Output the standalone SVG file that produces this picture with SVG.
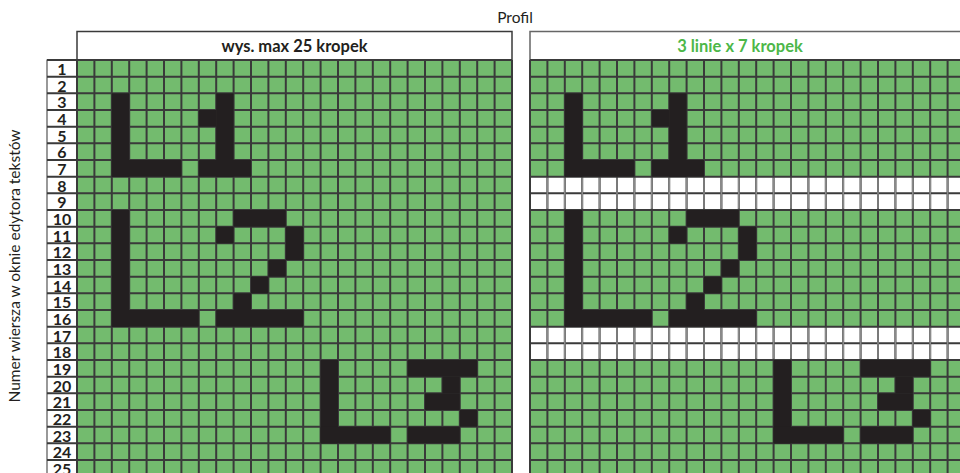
<svg xmlns="http://www.w3.org/2000/svg" xmlns:xlink="http://www.w3.org/1999/xlink" width="960" height="473" viewBox="0 0 960 473">
<style>
.bg{fill:#73bb6e}
.blk{fill:#231f20}
.wht{fill:#ffffff}
.gl{stroke:#3a3a3a;stroke-width:2;fill:none}
.gw{stroke:#8a8a8a;stroke-width:1.6;vector-effect:non-scaling-stroke;fill:none}
.nss{vector-effect:non-scaling-stroke}
.hdr{fill:#ffffff;stroke:#3a3a3a;stroke-width:1.5}
.ht{font-family:Lato,"Liberation Sans",sans-serif;font-weight:bold;font-size:16.5px;text-anchor:middle}
.num{font-family:Lato,"Liberation Sans",sans-serif;font-weight:bold;font-size:16px;text-anchor:middle;fill:#231f20}
.lab{fill:#ffffff;stroke:#555555;stroke-width:1.2;vector-effect:non-scaling-stroke}
.cap{font-family:Lato,"Open Sans",sans-serif;font-size:15.5px;fill:#231f20}
</style>
<defs>
  <g id="glyphs" class="blk">
    <rect x="2" y="2" width="1" height="5"/><rect x="2" y="6" width="4" height="1"/>
    <rect x="8" y="2" width="1" height="5"/><rect x="7" y="3" width="1" height="1"/><rect x="7" y="6" width="3" height="1"/>
    <rect x="2" y="9" width="1" height="7"/><rect x="2" y="15" width="5" height="1"/>
    <rect x="9" y="9" width="3" height="1"/><rect x="8" y="10" width="1" height="1"/><rect x="12" y="10" width="1" height="2"/>
    <rect x="11" y="12" width="1" height="1"/><rect x="10" y="13" width="1" height="1"/><rect x="9" y="14" width="1" height="1"/>
    <rect x="8" y="15" width="5" height="1"/>
    <rect x="14" y="18" width="1" height="5"/><rect x="14" y="22" width="4" height="1"/>
    <rect x="19" y="18" width="4" height="1"/><rect x="21" y="19" width="1" height="1"/><rect x="20" y="20" width="2" height="1"/>
    <rect x="22" y="21" width="1" height="1"/><rect x="19" y="22" width="3" height="1"/>
  </g>
  <path id="vlines" class="nss" d="M0 0V25M1 0V25M2 0V25M3 0V25M4 0V25M5 0V25M6 0V25M7 0V25M8 0V25M9 0V25M10 0V25M11 0V25M12 0V25M13 0V25M14 0V25M15 0V25M16 0V25M17 0V25M18 0V25M19 0V25M20 0V25M21 0V25M22 0V25M23 0V25M24 0V25M25 0V25"/>
  <path id="hlines" class="nss" d="M0 0H25M0 1H25M0 2H25M0 3H25M0 4H25M0 5H25M0 6H25M0 7H25M0 8H25M0 9H25M0 10H25M0 11H25M0 12H25M0 13H25M0 14H25M0 15H25M0 16H25M0 17H25M0 18H25M0 19H25M0 20H25M0 21H25M0 22H25M0 23H25M0 24H25M0 25H25"/>
</defs>

<text id="title" class="cap" x="515" y="23" text-anchor="middle">Profil</text>
<text id="ylabel" class="cap" transform="translate(20,266) rotate(-90)" text-anchor="middle">Numer wiersza w oknie edytora tekstów</text>

<g id="header-left">
  <rect class="hdr" x="77" y="31.5" width="435" height="28.5"/>
  <text class="ht" x="294.5" y="51.5" fill="#231f20">wys. max 25 kropek</text>
</g>
<g id="header-right">
  <rect class="hdr" x="530" y="31.5" width="440" height="28.5" style="stroke:#666"/>
  <text class="ht" x="740" y="51.5" fill="#4cb748">3 linie x 7 kropek</text>
</g>

<g id="row-labels">
  <g transform="translate(47,60) scale(1.2,16.6667)">
    <rect class="lab" x="0" y="0" width="25" height="25"/>
    <use xlink:href="#hlines" class="gl"/>
  </g>
  <g fill="#231f20">
    <text class="num" x="62" y="75">1</text>
    <text class="num" x="62" y="91.7">2</text>
    <text class="num" x="62" y="108.3">3</text>
    <text class="num" x="62" y="125">4</text>
    <text class="num" x="62" y="141.7">5</text>
    <text class="num" x="62" y="158.3">6</text>
    <text class="num" x="62" y="175">7</text>
    <text class="num" x="62" y="191.7">8</text>
    <text class="num" x="62" y="208.3">9</text>
    <text class="num" x="62" y="225">10</text>
    <text class="num" x="62" y="241.7">11</text>
    <text class="num" x="62" y="258.3">12</text>
    <text class="num" x="62" y="275">13</text>
    <text class="num" x="62" y="291.7">14</text>
    <text class="num" x="62" y="308.3">15</text>
    <text class="num" x="62" y="325">16</text>
    <text class="num" x="62" y="341.7">17</text>
    <text class="num" x="62" y="358.3">18</text>
    <text class="num" x="62" y="375">19</text>
    <text class="num" x="62" y="391.7">20</text>
    <text class="num" x="62" y="408.3">21</text>
    <text class="num" x="62" y="425">22</text>
    <text class="num" x="62" y="441.7">23</text>
    <text class="num" x="62" y="458.3">24</text>
    <text class="num" x="62" y="475">25</text>
  </g>
</g>

<g id="grid-left" transform="translate(77,60) scale(17.4,16.6667)">
  <rect class="bg" x="0" y="0" width="25" height="25"/>
  <use xlink:href="#vlines" class="gl"/>
  <use xlink:href="#hlines" class="gl"/>
  <use xlink:href="#glyphs"/>
</g>

<g id="grid-right" transform="translate(530,60) scale(17.4,16.6667)">
  <rect class="bg" x="0" y="0" width="25" height="25"/>
  <rect class="wht" x="0" y="7" width="25" height="2"/>
  <rect class="wht" x="0" y="16" width="25" height="2"/>
  <use xlink:href="#vlines" class="gl"/>
  <use xlink:href="#hlines" class="gl"/>
  <path class="gw" d="M1 7.07V8.93M2 7.07V8.93M3 7.07V8.93M4 7.07V8.93M5 7.07V8.93M6 7.07V8.93M7 7.07V8.93M8 7.07V8.93M9 7.07V8.93M10 7.07V8.93M11 7.07V8.93M12 7.07V8.93M13 7.07V8.93M14 7.07V8.93M15 7.07V8.93M16 7.07V8.93M17 7.07V8.93M18 7.07V8.93M19 7.07V8.93M20 7.07V8.93M21 7.07V8.93M22 7.07V8.93M23 7.07V8.93M24 7.07V8.93"/>
  <path class="gw" d="M1 16.07V17.93M2 16.07V17.93M3 16.07V17.93M4 16.07V17.93M5 16.07V17.93M6 16.07V17.93M7 16.07V17.93M8 16.07V17.93M9 16.07V17.93M10 16.07V17.93M11 16.07V17.93M12 16.07V17.93M13 16.07V17.93M14 16.07V17.93M15 16.07V17.93M16 16.07V17.93M17 16.07V17.93M18 16.07V17.93M19 16.07V17.93M20 16.07V17.93M21 16.07V17.93M22 16.07V17.93M23 16.07V17.93M24 16.07V17.93"/>
  <use xlink:href="#glyphs"/>
</g>
</svg>
